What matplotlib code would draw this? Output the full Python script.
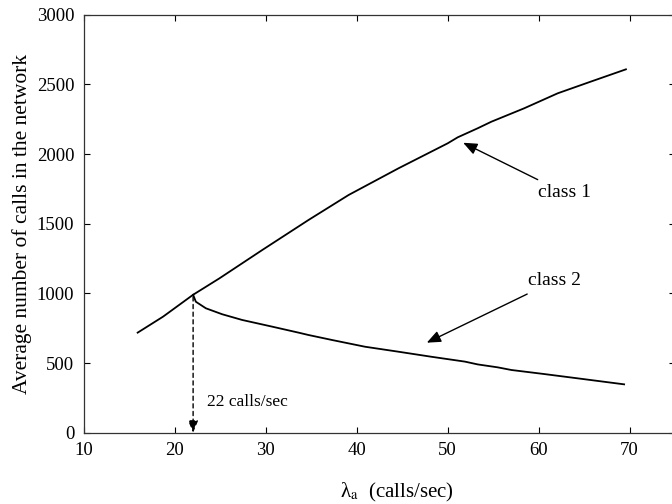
import numpy as np
import matplotlib.pyplot as plt

# values
class1_x = [15.9, 18.7, 22.0, 24.9, 29.6, 34.7, 39.1, 44.6, 50.0, 51.1, 53.3,
            54.8, 58.4, 62.1, 65.7, 69.6]
class1_y = [718, 833, 990, 1108, 1311, 1527, 1706, 1898, 2077, 2120, 2185,
            2232, 2328, 2436, 2519, 2608]

class2_x = [22.0, 22.3, 23.4, 25.2, 27.4, 30.7, 33.6, 34.7, 37.3, 40.9, 44.6, 48.2,
            51.9, 53.3, 55.5, 57.0, 60.6, 64.3, 69.4]
class2_y = [990, 940, 893, 850, 809, 761, 718, 701, 665, 617, 581, 545,
            510, 490, 469, 450, 421, 390, 347]

xticks = [10, 20, 30, 40, 50, 60, 70]
yticks = [0, 500, 1000, 1500, 2000, 2500, 3000]
split_x = 22
split_y = 990

plt.rcParams['font.family'] = ['Liberation Serif', 'DejaVu Serif']
plt.rcParams['mathtext.fontset'] = 'stix'

fig = plt.figure(figsize=(6.72, 5.04), dpi=100)
ax = fig.add_axes([0.125, 0.1415, 0.8795, 0.8293])

ax.plot(class1_x, class1_y, color='black', lw=1.3)
ax.plot(class2_x, class2_y, color='black', lw=1.3)

# dashed arrow down to the x axis
ax.annotate('', xy=(split_x, 0), xytext=(split_x, split_y - 15),
            arrowprops=dict(arrowstyle='-|>,head_length=0.6,head_width=0.25',
                            linestyle=(0, (3, 2.5)), color='black',
                            lw=1.0, mutation_scale=12, shrinkA=0, shrinkB=0))
ax.text(23.5, 222, '22 calls/sec', fontsize=12.5, va='center', ha='left')

ax.annotate('class 1', xy=(51.7, 2081), xytext=(59.9, 1722), fontsize=14,
            va='center', ha='left',
            arrowprops=dict(arrowstyle='-|>,head_length=0.6,head_width=0.25',
                            color='black', lw=1.0,
                            mutation_scale=14, shrinkA=3, shrinkB=0))
ax.annotate('class 2', xy=(47.7, 646), xytext=(58.8, 1089), fontsize=14,
            va='center', ha='left',
            arrowprops=dict(arrowstyle='-|>,head_length=0.6,head_width=0.25',
                            color='black', lw=1.0,
                            mutation_scale=14, shrinkA=3, shrinkB=0))

ax.set_xlim(10, 75)
ax.set_ylim(0, 3000)
ax.set_xticks(xticks)
ax.set_yticks(yticks)
ax.tick_params(direction='in', length=4, width=0.8, top=True, right=True,
               labelsize=13.5, pad=7)
for s in ax.spines.values():
    s.set_linewidth(0.9)
    s.set_color('#333333')

ax.set_xlabel('λ$_{\\rm a}$  (calls/sec)', fontsize=15)
ax.set_ylabel('Average number of calls in the network', fontsize=15.5)
ax.xaxis.set_label_coords(0.53, -0.115)
ax.yaxis.set_label_coords(-0.088, 0.5)

fig.savefig('out.png', dpi=100)
